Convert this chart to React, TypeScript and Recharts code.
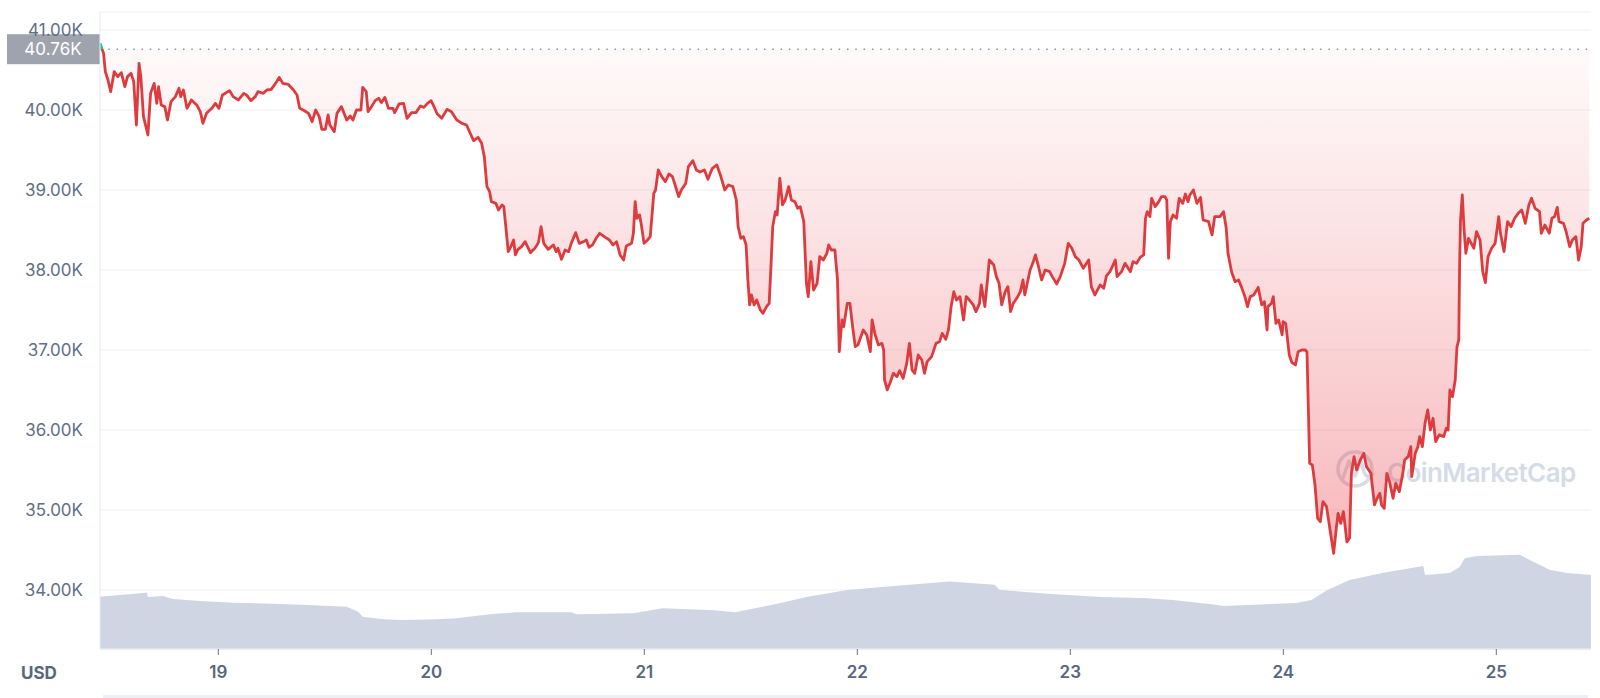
import React from 'react';
import { ComposedChart, Area, XAxis, YAxis, CartesianGrid, ReferenceLine } from 'recharts';

// Hours since the window start (18th ~10:40) and BTC price in USD
const priceHours = [
  0.0, 0.4, 0.6, 0.9, 1.2, 1.6, 2.0, 2.4, 2.8, 3.1, 3.5, 3.8, 4.1, 4.4, 4.6, 4.9, 5.4, 5.7, 6.1, 6.4,
  6.6, 6.9, 7.3, 7.6, 8.0, 8.5, 8.9, 9.1, 9.4, 9.8, 10.3, 10.9, 11.3, 11.6, 12.0, 12.6, 13.0, 13.4, 13.8, 14.6,
  15.0, 15.6, 16.2, 16.5, 17.0, 17.5, 17.8, 18.4, 18.8, 19.3, 19.9, 20.2, 20.6, 21.2, 21.8, 22.2, 22.5, 22.9, 23.5, 23.9,
  24.3, 24.7, 25.0, 25.4, 25.7, 25.9, 26.4, 26.7, 27.2, 27.8, 28.2,
  28.5, 28.9, 29.4, 29.6, 30.0, 30.2, 30.6, 31.0, 31.4, 31.7, 32.1, 32.5, 33.0, 33.2, 33.7, 34.2, 34.6, 35.1, 35.6, 36.1,
  36.5, 36.9, 37.3, 37.6, 38.0, 38.5, 39.1, 39.6, 40.2, 40.8, 41.3, 41.8, 42.1, 42.6, 43.0, 43.3, 43.6, 43.9, 44.1, 44.6,
  44.9, 45.3, 45.5, 45.8, 46.0, 46.3, 46.6, 46.8, 47.1, 47.5, 47.9, 48.5, 49.0, 49.4, 49.7, 50.0, 50.5, 51.1, 51.4, 51.6,
  52.0, 52.4, 52.8, 53.1, 53.6, 54.0, 54.5, 54.8, 55.1, 55.5, 55.9, 56.3,
  56.9, 57.4, 57.8, 58.2, 58.6, 59.0, 59.3, 59.9, 60.1, 60.3, 60.5, 60.8, 61.0, 61.3, 61.7, 62.0, 62.4, 62.6, 62.9, 63.3,
  63.7, 64.1, 64.5, 64.8, 65.2, 65.5, 66.0, 66.3, 66.8, 67.2, 67.6, 68.1, 68.5, 69.0, 69.5, 69.9, 70.4, 70.8, 71.3, 71.7,
  71.9, 72.2, 72.5, 72.8, 73.0, 73.2, 73.4, 73.7, 74.0, 74.4, 74.7, 75.1, 75.4, 75.6, 75.8, 76.1, 76.3, 76.6, 76.9, 77.2,
  77.6, 77.9, 78.3, 78.6, 78.9, 79.3, 79.6, 79.8, 80.1, 80.4, 80.8, 81.1, 81.5, 81.9, 82.1, 82.4, 82.8, 83.1, 83.3, 83.6,
  83.8, 84.2,
  84.5, 84.8, 85.1, 85.4, 86.0, 86.4, 86.8, 87.0, 87.3, 87.7, 88.1, 88.3, 88.4, 88.7, 89.0, 89.4, 89.8, 90.1, 90.5, 90.9,
  91.2, 91.5, 91.8, 92.2, 92.6, 92.9, 93.2, 93.7, 94.2, 94.6, 94.9, 95.3, 95.6, 95.9, 96.2, 96.5, 96.9, 97.3, 97.6, 97.8,
  98.1, 98.4, 98.7, 99.1, 99.3, 99.7, 100.0, 100.2, 100.7, 101.0, 101.3, 101.6, 102.0, 102.3, 102.6, 102.9, 103.3, 103.7, 104.0, 104.2,
  104.8, 105.1, 105.4, 105.7, 106.1, 106.5, 107.0, 107.3, 107.8, 108.2, 108.7, 109.1, 109.5, 109.9, 110.3, 110.8, 111.4, 111.7, 112.1, 112.7,
  113.1, 113.4, 113.8, 114.4, 114.6, 115.1, 115.5, 116.1, 116.4, 116.8, 117.2, 117.6, 117.8, 118.0, 118.3, 118.5, 118.9, 119.3, 119.6, 120.0,
  120.2, 120.4, 120.6, 120.9, 121.3, 121.6, 122.0, 122.3, 122.6, 122.8, 123.2, 123.6, 124.0, 124.3, 124.9, 125.3, 125.6, 126.2, 126.6, 126.9,
  127.1, 127.5, 127.9, 128.3, 128.6, 129.0, 129.3, 129.6, 130.0, 130.5, 130.9, 131.2, 131.5, 131.6, 132.0, 132.2, 132.5, 132.8, 133.2, 133.3,
  133.6, 134.0, 134.3, 134.7, 135.0, 135.4, 135.8, 136.0, 136.3, 136.6, 136.9, 137.2, 137.5, 137.8, 138.2, 138.6, 139.0, 139.3, 139.5, 139.8,
  140.1, 140.5,
  140.8, 141.0, 141.3, 141.6, 142.0, 142.4, 142.7, 143.2, 143.6, 143.9, 144.2, 144.4, 144.7, 145.0, 145.3, 145.7, 146.0, 146.4, 146.8, 147.0,
  147.4, 147.7, 147.8, 148.2, 148.5, 148.7, 149.0, 149.3, 149.6, 149.9, 150.2, 150.5, 150.9, 151.4, 151.7, 151.9, 152.1, 152.4, 152.7, 152.9,
  153.1, 153.2, 153.3, 153.5, 153.7, 153.9, 154.2, 154.6, 154.8, 155.1, 155.5, 155.8, 156.1, 156.4, 156.8, 157.2, 157.6, 157.8, 158.2, 158.6,
  159.0, 159.4, 159.8, 160.2, 160.6, 161.0, 161.3, 161.7, 162.2, 162.4, 162.8, 163.3, 163.6, 163.9, 164.2, 164.4, 164.9, 165.2, 165.6, 165.9,
  166.3, 166.6, 166.9, 167.1, 167.5, 167.8,
];

const priceValues = [
  40834, 40708, 40479, 40375, 40229, 40479, 40417, 40467, 40292, 40417, 40458, 40354, 39812, 40583, 40417, 39917, 39688, 40208, 40333, 40083,
  40292, 40063, 40042, 39875, 40104, 40167, 40271, 40167, 40250, 40021, 40125, 40063, 39979, 39833, 39958, 40021, 40083, 40021, 40188, 40242,
  40167, 40125, 40208, 40188, 40117, 40167, 40229, 40208, 40250, 40258, 40354, 40408, 40333, 40321, 40250, 40188, 40021, 40000, 39958, 39854,
  40000, 39917, 39758, 39758, 39938, 39813, 39729, 39958, 40042, 39875, 39925,
  39875, 40000, 40000, 40283, 40229, 39979, 40042, 40117, 40146, 40092, 40158, 40021, 40021, 39967, 40075, 40083, 39896, 39967, 39967, 40050,
  40033, 40083, 40117, 40050, 39950, 39896, 40008, 39979, 39875, 39833, 39813, 39688, 39617, 39659, 39584, 39417, 39042, 38979, 38854, 38833,
  38750, 38813, 38792, 38458, 38229, 38292, 38375, 38188, 38258, 38292, 38354, 38217, 38271, 38342, 38542, 38333, 38258, 38313, 38229, 38271,
  38133, 38250, 38229, 38333, 38467, 38333, 38354, 38375, 38283, 38313, 38396, 38458,
  38410, 38375, 38313, 38354, 38188, 38125, 38300, 38333, 38458, 38854, 38646, 38688, 38563, 38333, 38375, 38417, 38958, 39000, 39250, 39167,
  39104, 39200, 39167, 39063, 38917, 39000, 39083, 39292, 39367, 39250, 39225, 39250, 39133, 39271, 39313, 39188, 39000, 39063, 39042, 38875,
  38542, 38396, 38417, 38313, 37875, 37563, 37688, 37563, 37625, 37500, 37458, 37542, 37583, 38042, 38542, 38729, 38688, 39146, 38813, 38875,
  39042, 38875, 38854, 38771, 38792, 38604, 37833, 37667, 38104, 37750, 37833, 38167, 38125, 38208, 38313, 38250, 38250, 37875, 36979, 37375,
  37292, 37583,
  37583, 37292, 37042, 37063, 37250, 37188, 36979, 37375, 37208, 37063, 37083, 37000, 36625, 36500, 36583, 36708, 36667, 36742, 36646, 36833,
  37083, 36750, 36708, 36938, 36875, 36708, 36854, 36917, 37083, 37104, 37208, 37133, 37250, 37542, 37729, 37625, 37667, 37375, 37667, 37646,
  37604, 37563, 37479, 37583, 37813, 37542, 37875, 38125, 38063, 37917, 37833, 37563, 37729, 37792, 37479, 37583, 37646, 37729, 37875, 37688,
  38000, 38083, 38188, 38063, 37875, 38000, 37979, 37917, 37825, 37917, 38083, 38333, 38271, 38167, 38125, 38021, 38125, 37792, 37688, 37813,
  37771, 37925, 37979, 38125, 37917, 37979, 38083, 37979, 38104, 38083, 38158, 38188, 38646, 38729, 38667, 38896, 38792, 38854, 38917, 38917,
  38875, 38146, 38604, 38688, 38646, 38896, 38833, 38950, 38854, 38938, 39000, 38833, 38908, 38625, 38604, 38438, 38667, 38667, 38729, 38521,
  38208, 37979, 37854, 37875, 37792, 37667, 37542, 37667, 37688, 37783, 37563, 37604, 37250, 37542, 37583, 37667, 37333, 37375, 37188, 37354,
  37333, 36938, 36842, 36813, 36979, 37000, 37000, 36975, 35583, 35563, 35313, 34896, 34854, 35104, 35042, 34750, 34458, 34771, 34958, 34833,
  34979, 34600,
  34650, 35458, 35667, 35500, 35625, 35708, 35542, 35458, 35063, 35146, 35208, 35063, 35021, 35458, 35354, 35146, 35333, 35229, 35458, 35625,
  35667, 35792, 35417, 35708, 35792, 35917, 35792, 36083, 36250, 36000, 36146, 35854, 35938, 35917, 36021, 36000, 36500, 36417, 36625, 37042,
  37125, 38083, 38625, 38938, 38500, 38208, 38396, 38313, 38271, 38479, 38375, 37979, 37842, 38167, 38271, 38333, 38667, 38458, 38229, 38604,
  38542, 38646, 38708, 38750, 38583, 38813, 38896, 38771, 38729, 38458, 38563, 38458, 38646, 38667, 38783, 38604, 38583, 38479, 38292, 38375,
  38417, 38125, 38292, 38583, 38625, 38646,
];

// 24h trading volume, billions USD
const volumeHours = [
  0.0, 2.3, 4.8, 5.3, 5.4, 7.1, 8.2, 11.3, 15.0, 19.5, 24.0, 27.8, 29.1, 29.6, 31.9, 33.8, 37.1, 39.9, 43.9, 46.8,
  53.1, 53.7, 60.1, 63.4, 69.2, 71.6, 73.8, 76.2, 79.6, 84.2, 88.8, 95.7, 100.8, 101.4, 107.2, 112.9, 117.5, 120.9, 125.0, 126.7,
  134.8, 136.5, 138.3, 140.8, 144.6, 149.1, 149.3, 152.1, 153.2, 153.8, 155.2, 160.0, 161.1, 163.4, 165.3, 168.0,
];
const volumeValues = [
  20.5, 21.2, 22.0, 22.2, 20.4, 20.8, 19.6, 18.8, 18.2, 17.8, 17.2, 16.6, 14.6, 12.7, 11.7, 11.4, 11.6, 12.0, 13.6, 14.4,
  14.4, 13.6, 14.0, 16.0, 15.2, 14.4, 16.0, 17.7, 20.4, 23.2, 24.5, 26.5, 25.2, 23.2, 21.6, 20.4, 20.0, 19.2, 17.7, 16.9,
  18.1, 19.2, 23.2, 27.1, 29.9, 32.6, 29.0, 29.8, 32.2, 35.7, 36.5, 37.0, 34.9, 31.0, 29.8, 29.0,
];

const dayLabels = ['19', '20', '21', '22', '23', '24', '25'];
const firstMidnightHour = 13.33; // hours from window start to the 19th 00:00
const priceTicks = [34000, 35000, 36000, 37000, 38000, 39000, 40000, 41000];
const openPrice = 40760;
const priceDomain = [33262, 41225];
const volumeDomain = [0, 250];
const windowHours = 168;

type Row = { h: number; price?: number; vol?: number };

function buildRows(): Row[] {
  const map = new Map<number, Row>();
  priceHours.forEach((h, i) => {
    const r = map.get(h) || { h };
    r.price = priceValues[i];
    map.set(h, r);
  });
  volumeHours.forEach((h, i) => {
    const r = map.get(h) || { h };
    r.vol = volumeValues[i];
    map.set(h, r);
  });
  return Array.from(map.values()).sort((a, b) => a.h - b.h);
}

const rows = buildRows();
const xTicks = dayLabels.map((_, i) => firstMidnightHour + 24 * i);
const maxP = Math.max(...priceValues);
const minP = Math.min(...priceValues);
const splitOffset = (maxP - openPrice) / (maxP - minP);

const RED = '#dd3b3d';
const GREEN = '#16c784';
const LABEL = '#58667e';
const FONT = 'Inter, "Noto Sans", sans-serif';

const PriceTag = (props: any) => {
  const vb = props.viewBox || {};
  const x = vb.x ?? 0;
  const y = vb.y ?? 0;
  return (
    <g>
      <rect x={x - 93} y={y - 15} width={93} height={30} fill="#9ea3ae" />
      <text x={x - 47} y={y} textAnchor="middle" dominantBaseline="central" fill="#ffffff" fontSize={17} fontFamily={FONT}>
        {(openPrice / 1000).toFixed(2)}K
      </text>
    </g>
  );
};

const Watermark = () => (
  <svg width={1600} height={698} style={{ position: 'absolute', left: 0, top: 0 }}>
    <g opacity={0.85}>
      <circle cx={1355} cy={469} r={17} fill="none" stroke="#cfd6e3" strokeWidth={3.5} />
      <path d="M1343 478 L1349 461 L1355 476 L1361 461 L1364 472 Q1367 480 1373 474" fill="none" stroke="#cfd6e3" strokeWidth={3.5} strokeLinejoin="round" strokeLinecap="round" />
      <text x={1387} y={482} fontSize={26} fontWeight={600} fill="#cfd6e3" fontFamily={FONT} letterSpacing={-0.6}>
        CoinMarketCap
      </text>
    </g>
  </svg>
);

export default function App() {
  return (
    <div style={{ position: 'absolute', left: 0, top: 0, width: 1600, height: 698, overflow: 'hidden', background: '#fff', fontFamily: FONT }}>
      <Watermark />
      <div style={{ position: 'absolute', left: 0, top: 0 }}>
        <ComposedChart width={1600} height={698} data={rows} margin={{ top: 12, right: 9, bottom: 0, left: 0 }}>
          <defs>
            <linearGradient id="strokeSplit" x1="0" y1="0" x2="0" y2="1">
              <stop offset={0} stopColor={GREEN} />
              <stop offset={splitOffset} stopColor={GREEN} />
              <stop offset={splitOffset} stopColor={RED} />
              <stop offset={1} stopColor={RED} />
            </linearGradient>
            <linearGradient id="fillRed" x1="0" y1="0" x2="0" y2="1">
              <stop offset={0} stopColor="#ea3943" stopOpacity={0.02} />
              <stop offset={1} stopColor="#ea3943" stopOpacity={0.36} />
            </linearGradient>
          </defs>
          <CartesianGrid yAxisId="price" vertical={false} stroke="#eef0f5" />
          <XAxis
            dataKey="h"
            type="number"
            domain={[0, windowHours]}
            allowDataOverflow
            ticks={xTicks}
            tickFormatter={(v: number) => dayLabels[Math.round((v - firstMidnightHour) / 24)]}
            height={49}
            axisLine={{ stroke: '#e6e9f1', strokeWidth: 1.5 }}
            tickLine={{ stroke: '#6b7588' }}
            tickSize={6}
            tickMargin={11}
            tick={{ fontSize: 17, fill: LABEL, fontWeight: 600, fontFamily: FONT }}
          />
          <YAxis
            yAxisId="price"
            type="number"
            domain={priceDomain}
            allowDataOverflow
            ticks={priceTicks}
            tickFormatter={(v: number) => (v / 1000).toFixed(2) + 'K'}
            width={100}
            axisLine={{ stroke: '#e6e9f1' }}
            tickLine={false}
            tickSize={0}
            tickMargin={17}
            tick={{ fontSize: 17, fill: '#616e85', fontFamily: FONT }}
          />
          <YAxis yAxisId="vol" hide domain={volumeDomain} />
          <Area
            yAxisId="vol"
            dataKey="vol"
            type="linear"
            stroke="none"
            fill="#cfd5e2"
            fillOpacity={1}
            connectNulls
            isAnimationActive={false}
            dot={false}
            activeDot={false}
          />
          <Area
            yAxisId="price"
            dataKey="price"
            type="linear"
            baseValue={openPrice}
            stroke="url(#strokeSplit)"
            strokeWidth={2.8}
            strokeLinejoin="round"
            fill="url(#fillRed)"
            fillOpacity={1}
            connectNulls
            isAnimationActive={false}
            dot={false}
            activeDot={false}
          />
          <ReferenceLine
            yAxisId="price"
            y={openPrice}
            stroke="#8c93a0"
            strokeWidth={1.5}
            strokeDasharray="1.5 6.8"
            label={(p: any) => <PriceTag {...p} />}
          />
        </ComposedChart>
      </div>
      <div style={{ position: 'absolute', left: 21, top: 662, fontSize: 17, fontWeight: 700, color: LABEL, fontFamily: FONT, lineHeight: '22px' }}>
        USD
      </div>
      <div style={{ position: 'absolute', left: 103, top: 695, width: 1485, height: 3, background: '#eceff5' }} />
    </div>
  );
}
